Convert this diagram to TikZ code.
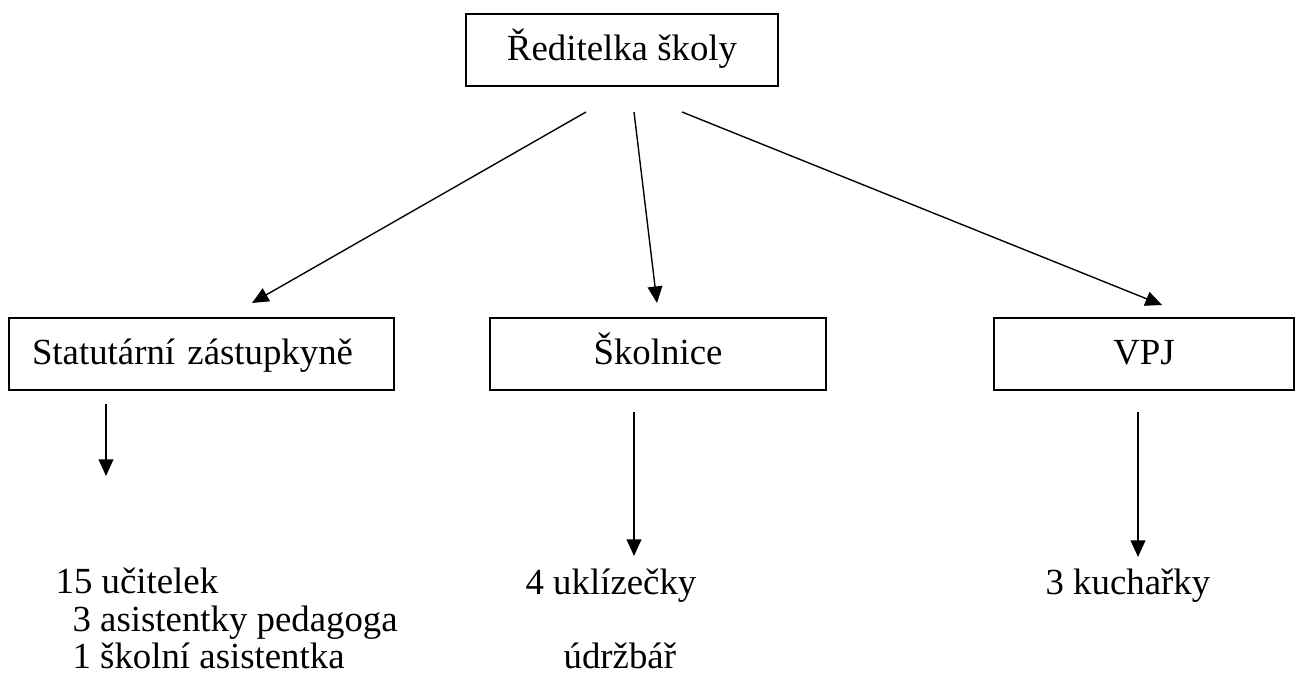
\documentclass[tikz,border=0pt]{standalone}
\usepackage{fontspec}
\setmainfont{Liberation Serif}
\usetikzlibrary{arrows.meta}
\usetikzlibrary{positioning}

\begin{document}
\begin{tikzpicture}[
      x=0.326pt, y=-0.326pt,
      font=\fontsize{12}{14}\selectfont,
      unit/.style={rectangle, draw, line width=0.5pt, minimum height=23.5pt, inner sep=0pt, text height=9.2pt, text depth=2.6pt},
      staff/.style={anchor=base west, inner sep=0pt},
      arrow/.style={-{Triangle[length=5.4pt,width=4.8pt]}, line width=0.45pt}
      ]
      \useasboundingbox (0,0) rectangle (1296,682);

      % Nodes
      \node[unit, minimum width=101.7pt] (head) at (622,50) {Ředitelka školy};

      \node[unit, text width=110.5pt, inner xsep=7.5pt, align=left] (zast) at (201.5,354) {Statutární zástupkyně};
      \node[unit, minimum width=109.5pt] (skol) at (658,354) {Školnice};
      \node[unit, minimum width=97.8pt] (vpj) at (1144,354) {VPJ};

      \node[staff] (ucit) at (55,594) {15 učitelek};
      \node[staff] (asped) at (72,631) {3 asistentky pedagoga};
      \node[staff] (asskol) at (72,668) {1 školní asistentka};

      \node[staff] (ukl) at (525,595) {4 uklízečky};
      \node[staff] (udrz) at (563,668) {údržbář};

      \node[staff] (kuch) at (1045,595) {3 kuchařky};

      % Arrow ends
      \coordinate (h1) at (586,112);
      \coordinate (h2) at (634,112);
      \coordinate (h3) at (682,112);
      \coordinate (z1) at (252,303);
      \coordinate (s1) at (657,303);
      \coordinate (v1) at (1162,305);

      \coordinate (z2) at (106,404);
      \coordinate (z3) at (106,476);
      \coordinate (s2) at (634,412);
      \coordinate (s3) at (634,556);
      \coordinate (v2) at (1138,412);
      \coordinate (v3) at (1138,557);

      % Arrows
      \draw[arrow] (h1) -- (z1);
      \draw[arrow] (h2) -- (s1);
      \draw[arrow] (h3) -- (v1);
      \draw[arrow] (z2) -- (z3);
      \draw[arrow] (s2) -- (s3);
      \draw[arrow] (v2) -- (v3);

    \end{tikzpicture}
\end{document}
